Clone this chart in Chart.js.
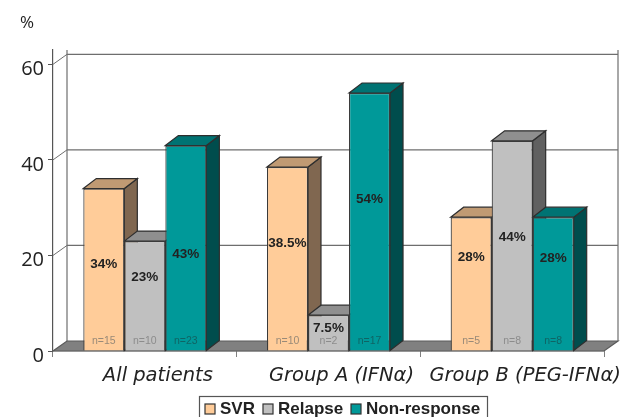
<!DOCTYPE html>
<html>
<head>
<meta charset="utf-8">
<style>
html,body{margin:0;padding:0;background:#fff;}
#wrap{width:622px;height:417px;}
</style>
<script src="https://cdn.jsdelivr.net/npm/chart.js@4"></script>
</head>
<body>
<div id="wrap"><canvas id="myChart" width="622" height="417"></canvas></div>
<script>
// datos
const groups = ["All patients", "Group A (IFNα)", "Group B (PEG-IFNα)"];
const svr = [34, 38.5, 28];
const relapse = [23, 7.5, 44];
const nonResponse = [43, 54, 28];
const svrN = ["n=15", "n=10", "n=5"];
const relapseN = ["n=10", "n=2", "n=8"];
const nonResponseN = ["n=23", "n=17", "n=8"];
const svrText = ["34%", "38.5%", "28%"];
const relapseText = ["23%", "7.5%", "44%"];
const nonResponseText = ["43%", "54%", "28%"];
// altura de cada etiqueta, en unidades del eje
const svrTextAt = [18.2, 22.6, 19.7];
const relapseTextAt = [15.5, 4.8, 23.7];
const nonResponseTextAt = [20.3, 31.8, 19.5];
const yTicks = [0, 20, 40, 60];

const depthX = 14;
const depthY = 10;
const barDepthX = 13;

function makeSet(label, values, front, top, side, nText, nColor, text, textAt){
	return {
		label: label, data: values,
		backgroundColor: front, borderColor: "#3a3a3a", borderWidth: 1.2,
		top: top, side: side, nText: nText, nColor: nColor, text: text, textAt: textAt
	};
}

const datasets = [
	makeSet("SVR", svr, "#ffcc99", "#c09a73", "#806750", svrN, "#998a78", svrText, svrTextAt),
	makeSet("Relapse", relapse, "#c0c0c0", "#8f8f8f", "#606060", relapseN, "#8c8c8c", relapseText, relapseTextAt),
	makeSet("Non-response", nonResponse, "#009999", "#007373", "#004d4d", nonResponseN, "#0f6464", nonResponseText, nonResponseTextAt)
];

function poly(ctx, pts, fill, stroke){
	ctx.beginPath();
	ctx.moveTo(pts[0][0], pts[0][1]);
	for(let i = 1; i < pts.length; i++){
		ctx.lineTo(pts[i][0], pts[i][1]);
	}
	ctx.closePath();
	if(fill){ ctx.fillStyle = fill; ctx.fill(); }
	if(stroke){ ctx.strokeStyle = stroke; ctx.lineWidth = 1.2; ctx.stroke(); }
}

function line(ctx, x1, y1, x2, y2, color, w){
	ctx.beginPath();
	ctx.moveTo(x1, y1);
	ctx.lineTo(x2, y2);
	ctx.strokeStyle = color;
	ctx.lineWidth = w;
	ctx.stroke();
}

const box3d = {
	id: "box3d",
	beforeDatasetsDraw(chart){
		const ctx = chart.ctx;
		const a = chart.chartArea;
		const y = chart.scales.y;
		const base = y.getPixelForValue(0);
		ctx.save();
		// paredes y suelo
		line(ctx, a.left + depthX, a.top, a.left + depthX, base - depthY, "#a8a8a8", 2);
		line(ctx, a.right + depthX, a.top, a.right + depthX, base - depthY, "#a8a8a8", 2);
		yTicks.forEach(t => {
			if(t == 0) return;
			const py = y.getPixelForValue(t);
			line(ctx, a.left + depthX, py - depthY, a.right + depthX, py - depthY, "#6e6e6e", 1.2);
			line(ctx, a.left, py, a.left + depthX, py - depthY, "#6e6e6e", 1);
		});
		poly(ctx, [[a.left, base], [a.right, base], [a.right + depthX, base - depthY], [a.left + depthX, base - depthY]], "#808080", "#5a5a5a");
		// caras laterales y superiores, las frontales las pinta Chart.js encima
		chart.data.datasets.forEach((ds, i) => {
			chart.getDatasetMeta(i).data.forEach(bar => {
				const l = bar.x - bar.width / 2;
				const r = bar.x + bar.width / 2;
				poly(ctx, [[r, bar.y], [r + barDepthX, bar.y - depthY], [r + barDepthX, bar.base - depthY], [r, bar.base]], ds.side, "#2e2e2e");
				poly(ctx, [[l, bar.y], [l + barDepthX, bar.y - depthY], [r + barDepthX, bar.y - depthY], [r, bar.y]], ds.top, "#2e2e2e");
			});
		});
		ctx.restore();
	},
	afterDatasetsDraw(chart){
		const ctx = chart.ctx;
		const y = chart.scales.y;
		ctx.save();
		ctx.textAlign = "center";
		ctx.textBaseline = "middle";
		chart.data.datasets.forEach((ds, i) => {
			chart.getDatasetMeta(i).data.forEach((bar, j) => {
				ctx.font = "10.5px 'Liberation Sans'";
				ctx.fillStyle = ds.nColor;
				ctx.fillText(ds.nText[j], bar.x, y.getPixelForValue(0) - 10);
				ctx.font = "bold 13.5px 'Liberation Sans'";
				ctx.fillStyle = "#222";
				ctx.fillText(ds.text[j], bar.x, y.getPixelForValue(ds.textAt[j]));
			});
		});
		ctx.restore();
	},
	afterDraw(chart){
		const ctx = chart.ctx;
		ctx.save();
		ctx.fillStyle = "#222";
		ctx.textBaseline = "middle";
		ctx.textAlign = "center";
		ctx.font = "17px 'Open Sans'";
		ctx.fillText("%", 27, 23);
		// leyenda
		ctx.strokeStyle = "#555";
		ctx.lineWidth = 1.2;
		ctx.strokeRect(199.5, 396.5, 288, 24);
		ctx.textAlign = "left";
		ctx.font = "bold 17px 'Liberation Sans'";
		const keys = [205, 263, 351];
		chart.data.datasets.forEach((ds, i) => {
			ctx.fillStyle = ds.backgroundColor;
			ctx.fillRect(keys[i], 404, 10, 10);
			ctx.strokeStyle = "#333";
			ctx.strokeRect(keys[i], 404, 10, 10);
			ctx.fillStyle = "#222";
			ctx.fillText(ds.label, keys[i] + 15, 409.5);
		});
		ctx.restore();
	}
};

new Chart(document.getElementById("myChart"), {
	type: "bar",
	data: { labels: groups, datasets: datasets },
	options: {
		responsive: false,
		animation: false,
		devicePixelRatio: 1,
		layout: { padding: { top: 50, right: 18, left: 0, bottom: 0 } },
		plugins: { legend: { display: false }, title: { display: false }, tooltip: { enabled: false } },
		datasets: { bar: { categoryPercentage: 0.67, barPercentage: 1 } },
		scales: {
			x: {
				afterFit: s => { s.height = 66; },
				border: { color: "#555", width: 1.2 },
				grid: { drawOnChartArea: false, offset: true, tickLength: 6, color: "#808080" },
				ticks: {
					autoSkip: false, maxRotation: 0, minRotation: 0, labelOffset: 13, padding: 7,
					color: "#222", font: { family: "'DejaVu Sans'", style: "italic", size: 19.5 }
				}
			},
			y: {
				min: 0, max: 63,
				afterFit: s => { s.width = 53; },
				border: { color: "#555", width: 1.2 },
				grid: { drawOnChartArea: false, tickLength: 5, color: "#555" },
				ticks: {
					stepSize: 20, includeBounds: false, labelOffset: 5, padding: 4,
					color: "#222", font: { family: "'Open Sans'", size: 20 }
				}
			}
		}
	},
	plugins: [box3d]
});
</script>
</body>
</html>
